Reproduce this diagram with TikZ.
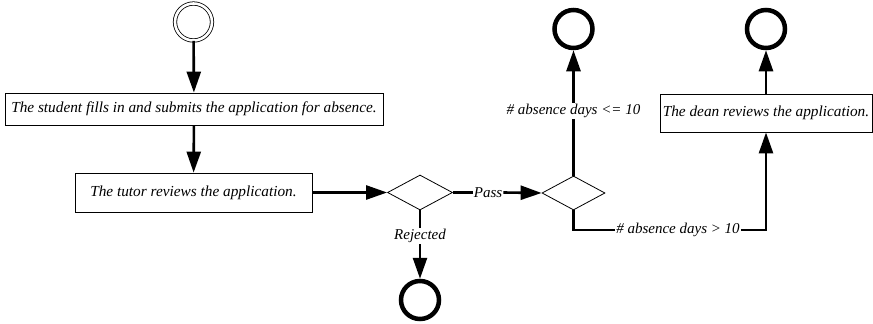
\documentclass[tikz,border=0pt]{standalone}
\usepackage{fontspec}
\setmainfont{Liberation Serif}
\usetikzlibrary{arrows.meta,shapes.geometric}
\begin{document}
\begin{tikzpicture}[x=1pt,y=-1pt,
  flow/.style={line width=2.6pt, -{Triangle[length=21pt,width=14pt]}},
  seg/.style={line width=2.6pt},
  action/.style={draw, line width=0.8pt, inner sep=0, font=\fontsize{15.3}{17}\selectfont\itshape},
  decision/.style={diamond, draw, line width=0.8pt, minimum width=65pt, minimum height=35pt, inner sep=0},
  final/.style={circle, draw, line width=4.5pt, minimum size=38pt, inner sep=0},
  initial/.style={circle, draw, double, double distance=2.6pt, line width=0.8pt, minimum size=37pt, inner sep=0},
  guard/.style={inner sep=1pt, font=\fontsize{15}{17}\selectfont\itshape}]
\useasboundingbox (0,0) rectangle (873,324);

% activity nodes
\node[initial] (start) at (193.5,22) {};
\node[action, minimum width=378pt, minimum height=32pt] (submit) at (194,109)
  {The student fills in and submits the application for absence.};
\node[action, minimum width=237pt, minimum height=39pt] (tutor) at (193.5,192.5)
  {The tutor reviews the application.};
\node[decision] (d1) at (420,192.5) {};
\node[decision, minimum width=63pt, minimum height=34pt] (d2) at (573.5,193) {};
\node[action, minimum width=212pt, minimum height=38pt] (dean) at (766,113)
  {The dean reviews the application.};

% final nodes
\node[final] (endR) at (420,300) {};
\node[final] (endA) at (573.5,29) {};
\node[final] (endD) at (766,29) {};

% guards
\node[guard] (pass) at (488,192.5) {Pass};
\node[guard] (rej) at (420,236) {Rejected};
\node[guard] (le) at (573.5,111) {\# absence days <= 10};
\node[guard] (gt) at (678,230) {\# absence days > 10};

% control flows
\draw[flow] (start) -- (submit);
\draw[flow] (submit) -- (tutor);
\draw[flow] (tutor) -- (d1);
\draw[seg] (d1.east) -- (pass.west);
\draw[flow] (pass.east) -- (d2.west);
\draw[seg] (d1.south) -- (rej.north);
\draw[flow] (rej.south) -- (endR);
\draw[seg] (d2.north) -- (le.south);
\draw[flow] (le.north) -- (endA);
\draw[seg] (d2.south) |- (gt.west);
\draw[flow] (gt.east) -| (dean.south);
\draw[flow] (dean.north) -- (endD);
\end{tikzpicture}
\end{document}
